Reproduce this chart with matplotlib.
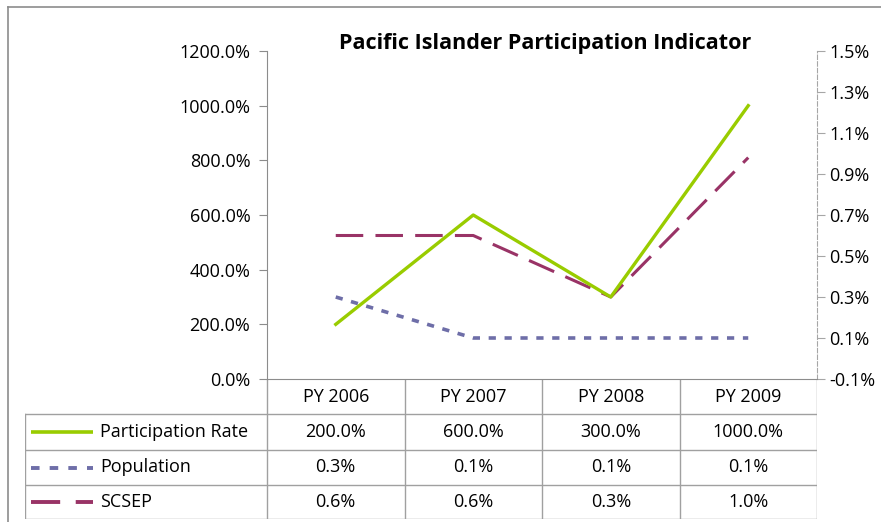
import matplotlib
matplotlib.use('Agg')
import numpy as np
import matplotlib.pyplot as plt
from matplotlib.lines import Line2D

categories = ['PY 2006', 'PY 2007', 'PY 2008', 'PY 2009']
participation = [200.0, 600.0, 300.0, 1000.0]   # left axis, %
population = [0.3, 0.1, 0.1, 0.1]               # right axis, %
scsep = [0.6, 0.6, 0.3, 0.98]                   # right axis, %
left_ticks = [0, 200, 400, 600, 800, 1000, 1200]
right_ticks = [-0.1, 0.1, 0.3, 0.5, 0.7, 0.9, 1.1, 1.3, 1.5]
title = 'Pacific Islander Participation Indicator'

green = '#99CC00'
blue = '#6E6EA8'
maroon = '#993366'
gray = '#8C8C8C'

plt.rcParams['font.family'] = ['Open Sans', 'DejaVu Sans']
plt.rcParams['font.size'] = 13

W, H = 881, 522
fig = plt.figure(figsize=(W/100, H/100), dpi=100)

def fbox(x0, y0, x1, y1):
    # pixel box (top-left origin) -> figure fraction rect
    return [x0/W, 1 - y1/H, (x1-x0)/W, (y1-y0)/H]

# outer chart border
fig.add_artist(Line2D([8/W, 8/W], [0, 1-7/H], color=gray, lw=1.2))
fig.add_artist(Line2D([8/W, 1], [1-7/H, 1-7/H], color=gray, lw=1.2))

px0, px1, py0, py1 = 267, 817, 51, 379
ax = fig.add_axes(fbox(px0, py0, px1, py1))
ax2 = ax.twinx()
x = np.arange(len(categories))

ax.plot(x, participation, color=green, lw=2.4, zorder=3)
ax2.plot(x, population, color=blue, lw=2.6, dashes=(2, 2.4))
ax2.plot(x, scsep, color=maroon, lw=2.2, dashes=(9, 4))

ax.set_xlim(-0.5, len(categories) - 0.5)
ax.set_ylim(0, 1200)
ax.set_yticks(left_ticks)
ax.set_yticklabels(['{:.1f}%'.format(v) for v in left_ticks])
ax2.set_ylim(-0.1, 1.5)
ax2.set_yticks(right_ticks)
ax2.set_yticklabels(['{:.1f}%'.format(v) for v in right_ticks])
ax.set_xticks([])
ax.set_zorder(ax2.get_zorder() + 1)
ax.patch.set_visible(False)

for a in (ax, ax2):
    for s in a.spines.values():
        s.set_visible(False)
ax.spines['left'].set_visible(True)
ax.spines['left'].set_color(gray)
ax.spines['bottom'].set_visible(True)
ax.spines['bottom'].set_color(gray)
ax2.spines['right'].set_visible(True)
ax2.spines['right'].set_color('#A6A6A6')
ax2.spines['right'].set_linestyle((0, (4, 2)))
ax.tick_params(axis='y', length=6, color=gray, pad=6, labelsize=13)
ax2.tick_params(axis='y', length=6, color='#A6A6A6', pad=3, labelsize=13)

fig.text(545/W, 1 - 43/H, title, ha='center', va='center',
         fontsize=15.5, fontweight='bold')

# data table below the plot
tx0, ty0, tx1, ty1 = 25, 379, 817, 519
tax = fig.add_axes(fbox(tx0, ty0, tx1, ty1))
tax.set_xlim(tx0, tx1)
tax.set_ylim(ty1, ty0)
tax.axis('off')
rows = [414, 450, 485, 519]
colw = (px1 - px0) / len(categories)
cols = [px0 + i*colw for i in range(len(categories) + 1)]
lc = '#A0A0A0'
for c in cols:
    tax.plot([c, c], [ty0, ty1], color=lc, lw=1)
tax.plot([tx0, tx0], [rows[0], ty1], color=lc, lw=1)
for r in rows:
    tax.plot([tx0, px1], [r, r], color=lc, lw=1)
for i, cat in enumerate(categories):
    tax.text(px0 + (i+0.5)*colw, (ty0 + rows[0])/2, cat, ha='center', va='center')

series = [('Participation Rate', participation, green, dict(lw=2.6)),
          ('Population', population, blue, dict(lw=2.8, dashes=(2.2, 2.6))),
          ('SCSEP', scsep, maroon, dict(lw=2.8, dashes=(7.5, 4)))]
for k, (name, vals, col, kw) in enumerate(series):
    yc = (rows[k] + rows[k+1]) / 2
    tax.plot([31, 93], [yc, yc], color=col, solid_capstyle='butt', **kw)
    tax.text(100, yc, name, ha='left', va='center')
    for i, v in enumerate(vals):
        tax.text(px0 + (i+0.5)*colw, yc, '{:.1f}%'.format(v), ha='center', va='center')

fig.savefig('out.png', dpi=100)
